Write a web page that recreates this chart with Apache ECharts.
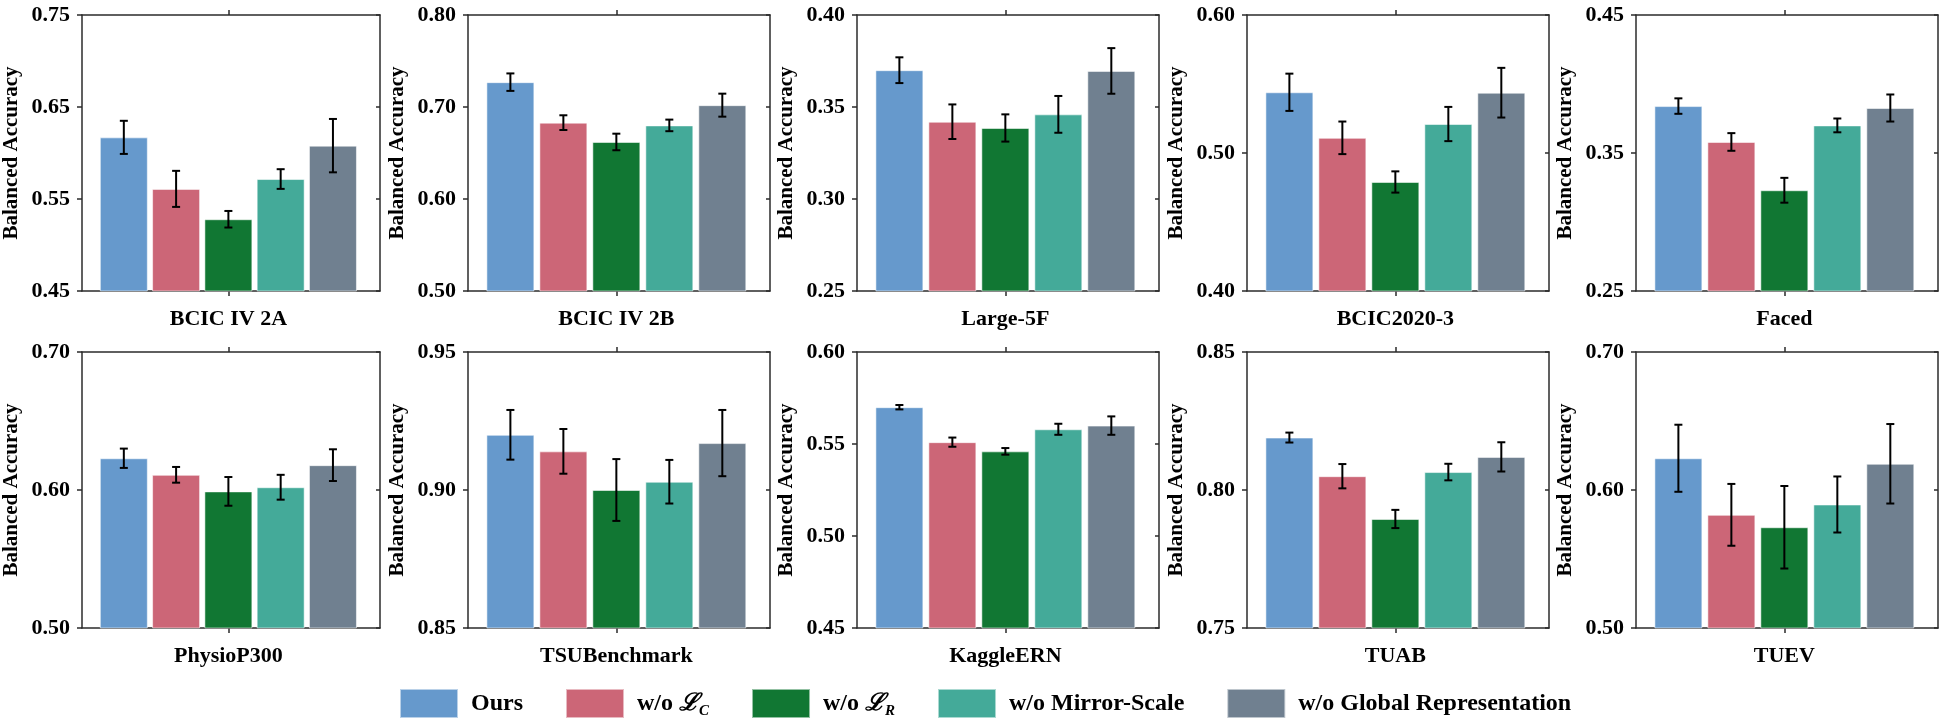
<!DOCTYPE html>
<html lang="en">
<head>
<meta charset="UTF-8">
<title></title>
<style>
    html, body { margin: 0; padding: 0; background: #fff; }
    #chart {
        width: 1943px;
        height: 722px;
    }
</style>
</head>
<body>
<div id="chart"></div>
<script src="https://cdn.jsdelivr.net/npm/echarts@6/dist/echarts.min.js"></script>
<script>
    // datasets, one panel each
    var datasets = ['BCIC IV 2A', 'BCIC IV 2B', 'Large-5F', 'BCIC2020-3', 'Faced',
                    'PhysioP300', 'TSUBenchmark', 'KaggleERN', 'TUAB', 'TUEV'];
    var methods = ['Ours', 'w/o L_C', 'w/o L_R', 'w/o Mirror-Scale', 'w/o Global Representation'];
    var colors = ['#6699CC', '#CC6677', '#117733', '#44AA99', '#708090'];

    // y range and tick labels per panel
    var yMin = [0.45, 0.50, 0.25, 0.40, 0.25, 0.50, 0.85, 0.45, 0.75, 0.50];
    var yMax = [0.75, 0.80, 0.40, 0.60, 0.45, 0.70, 0.95, 0.60, 0.85, 0.70];
    var yTicks = [
        [0.45, 0.55, 0.65, 0.75], [0.50, 0.60, 0.70, 0.80], [0.25, 0.30, 0.35, 0.40],
        [0.40, 0.50, 0.60], [0.25, 0.35, 0.45], [0.50, 0.60, 0.70], [0.85, 0.90, 0.95],
        [0.45, 0.50, 0.55, 0.60], [0.75, 0.80, 0.85], [0.50, 0.60, 0.70]
    ];

    // balanced accuracy (mean) and error per method, one value per dataset
    var ours       = [0.617, 0.727, 0.370, 0.544, 0.384, 0.623, 0.920, 0.570, 0.819, 0.623];
    var oursErr    = [0.018, 0.0095, 0.007, 0.0135, 0.0056, 0.007, 0.009, 0.0012, 0.0018, 0.0243];
    var woLC       = [0.561, 0.683, 0.342, 0.511, 0.358, 0.611, 0.914, 0.551, 0.805, 0.582];
    var woLCErr    = [0.0196, 0.008, 0.0094, 0.0118, 0.0064, 0.0057, 0.0081, 0.0025, 0.0044, 0.0224];
    var woLR       = [0.528, 0.662, 0.3386, 0.479, 0.323, 0.599, 0.900, 0.546, 0.7895, 0.573];
    var woLRErr    = [0.009, 0.009, 0.0074, 0.0077, 0.009, 0.0104, 0.0112, 0.0018, 0.0033, 0.0299];
    var woMirror   = [0.5717, 0.680, 0.346, 0.521, 0.370, 0.602, 0.903, 0.558, 0.8065, 0.5895];
    var woMirrorErr= [0.0107, 0.0063, 0.010, 0.0124, 0.005, 0.009, 0.0079, 0.003, 0.003, 0.0203];
    var woGlobal   = [0.608, 0.702, 0.3696, 0.5437, 0.3826, 0.618, 0.917, 0.560, 0.812, 0.619];
    var woGlobalErr= [0.029, 0.0125, 0.0124, 0.018, 0.0098, 0.0115, 0.012, 0.005, 0.0053, 0.0288];

    var means = [ours, woLC, woLR, woMirror, woGlobal];
    var errs = [oursErr, woLCErr, woLRErr, woMirrorErr, woGlobalErr];

    var font = 'Liberation Serif';
    var axisColor = '#2b2b2b';
    var gridLefts = [78, 468, 857, 1247, 1636];
    var gridTops = [15, 352];

    var myChart = echarts.init(document.getElementById('chart'));

    var grid = [], xAxis = [], yAxis = [], series = [];

    datasets.forEach(function (name, g) {
        var col = g % 5, row = Math.floor(g / 5);
        grid.push({ left: gridLefts[col], top: gridTops[row], width: 302, height: 276 });

        var lineStyle = { color: axisColor, width: 1.5 };
        // bottom axis carries the dataset name at the centre tick
        xAxis.push({
            type: 'value', gridIndex: g, min: -0.8, max: 4.9, position: 'bottom',
            splitLine: { show: false },
            axisLine: { show: true, onZero: false, lineStyle: lineStyle },
            axisTick: { show: true, length: 5, customValues: [2], lineStyle: lineStyle },
            axisLabel: {
                customValues: [2], margin: 17,
                formatter: function () { return name; },
                fontFamily: font, fontWeight: 'bold', fontSize: 22, color: '#000'
            }
        });
        xAxis.push({
            type: 'value', gridIndex: g, min: -0.8, max: 4.9, position: 'top',
            splitLine: { show: false },
            axisLine: { show: true, onZero: false, lineStyle: lineStyle },
            axisTick: { show: true, length: 5, customValues: [2], lineStyle: lineStyle },
            axisLabel: { show: false }
        });
        yAxis.push({
            type: 'value', gridIndex: g, min: yMin[g], max: yMax[g], position: 'left',
            splitLine: { show: false },
            axisLine: { show: true, onZero: false, lineStyle: lineStyle },
            axisTick: { show: true, length: 5, customValues: yTicks[g], lineStyle: lineStyle },
            axisLabel: {
                customValues: yTicks[g], margin: 12,
                formatter: function (v) { return v.toFixed(2); },
                fontFamily: font, fontWeight: 'bold', fontSize: 22, color: '#000'
            },
            name: 'Balanced Accuracy', nameLocation: 'middle', nameGap: 60,
            nameTextStyle: { fontFamily: font, fontWeight: 'bold', fontSize: 21, color: '#000' }
        });
        yAxis.push({
            type: 'value', gridIndex: g, min: yMin[g], max: yMax[g], position: 'right',
            splitLine: { show: false },
            axisLine: { show: true, onZero: false, lineStyle: lineStyle },
            axisTick: { show: true, inside: true, length: 4, customValues: yTicks[g], lineStyle: lineStyle },
            axisLabel: { show: false }
        });

        var errData = [];
        methods.forEach(function (m, k) {
            series.push({
                type: 'bar', name: m, xAxisIndex: 2 * g, yAxisIndex: 2 * g,
                data: [[k, means[k][g]]],
                barWidth: 48, barGap: '-100%',
                itemStyle: { color: colors[k], borderColor: 'rgba(255,255,255,0.55)', borderWidth: 1 }
            });
            errData.push([k, means[k][g], errs[k][g]]);
        });

        series.push({
            type: 'custom', xAxisIndex: 2 * g, yAxisIndex: 2 * g, z: 10,
            data: errData,
            encode: { x: 0, y: 1 },
            renderItem: function (params, api) {
                var x = api.value(0), m = api.value(1), e = api.value(2);
                var hi = api.coord([x, m + e]);
                var lo = api.coord([x, m - e]);
                var st = { stroke: '#000', lineWidth: 2 };
                return {
                    type: 'group',
                    children: [
                        { type: 'line', shape: { x1: hi[0], y1: hi[1], x2: lo[0], y2: lo[1] }, style: st },
                        { type: 'line', shape: { x1: hi[0] - 4, y1: hi[1], x2: hi[0] + 4, y2: hi[1] }, style: st },
                        { type: 'line', shape: { x1: lo[0] - 4, y1: lo[1], x2: lo[0] + 4, y2: lo[1] }, style: st }
                    ]
                };
            }
        });
    });

    var legendLabel = {
        'w/o L_C': '{t|w/o }{m|ℒ}{s|C}',
        'w/o L_R': '{t|w/o }{m|ℒ}{s|R}'
    };

    var option = {
        animation: false,
        grid: grid,
        xAxis: xAxis,
        yAxis: yAxis,
        legend: {
            data: methods,
            left: 394, top: 683,
            itemWidth: 58, itemHeight: 29, itemGap: 42,
            icon: 'rect',
            formatter: function (name) { return legendLabel[name] || name; },
            textStyle: {
                fontFamily: font, fontWeight: 'bold', fontSize: 24, color: '#000',
                padding: [0, 0, 0, 8],
                rich: {
                    t: { fontFamily: font, fontWeight: 'bold', fontSize: 24, color: '#000', lineHeight: 30 },
                    m: { fontFamily: 'DejaVu Serif', fontStyle: 'italic', fontSize: 24, color: '#000', lineHeight: 30 },
                    s: { fontFamily: font, fontStyle: 'italic', fontSize: 15, color: '#000', lineHeight: 30, verticalAlign: 'bottom', padding: [12, 0, 0, 0] }
                }
            }
        },
        series: series
    };

    myChart.setOption(option);
</script>
</body>
</html>
